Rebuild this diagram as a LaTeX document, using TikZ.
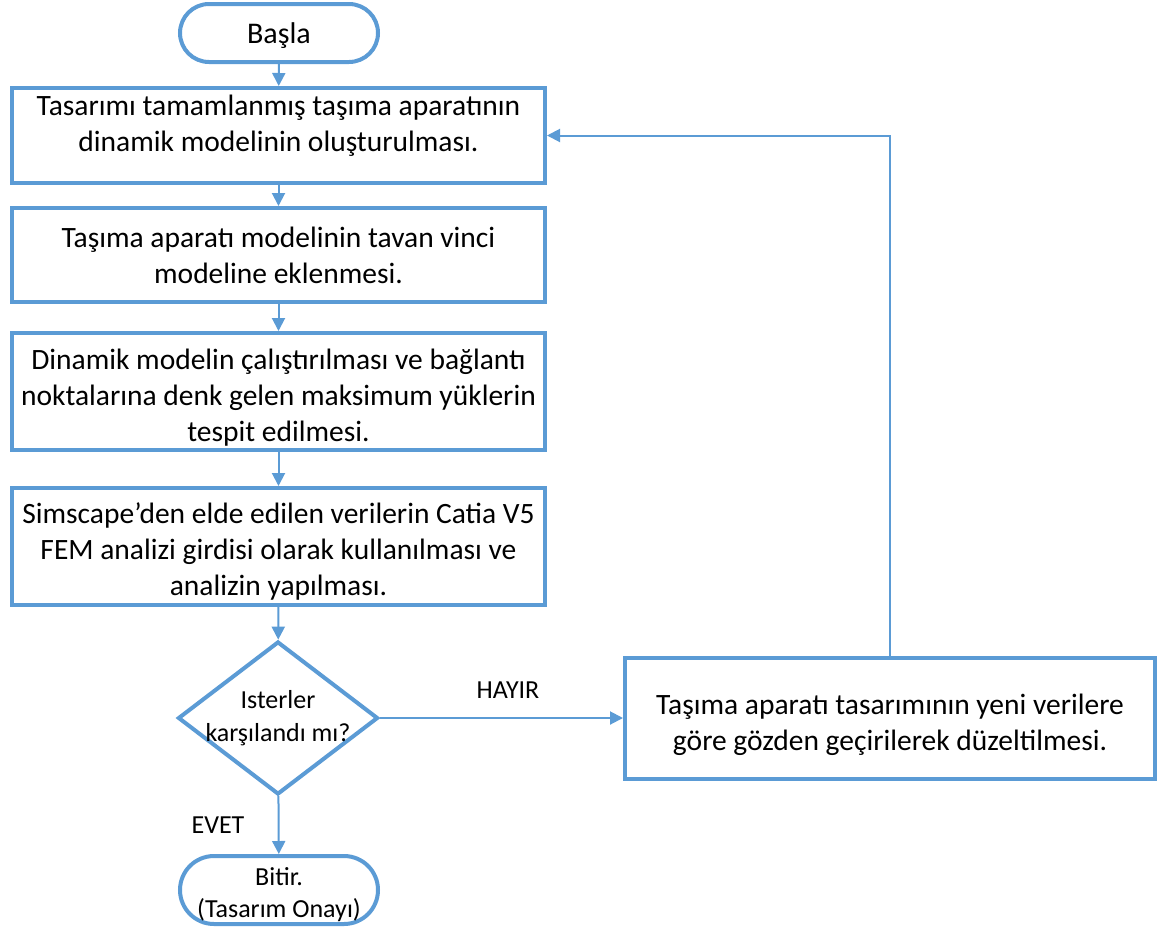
\documentclass[tikz,border=0pt]{standalone}
\usepackage{fontspec}
\setmainfont{Carlito}
\usepackage{xcolor}
\definecolor{fcblue}{RGB}{91,155,213}
\usepackage{tikz}
\usetikzlibrary{arrows.meta, positioning, shapes.geometric}

\begin{document}
\begin{tikzpicture}[x=1pt, y=-1pt,
  flowbox/.style={draw=fcblue, line width=4pt, fill=white, minimum width=533pt,
    align=center, inner sep=0pt, font=\fontsize{29.5}{36}\selectfont},
  termbox/.style={draw=fcblue, line width=4pt, fill=white, minimum width=198pt,
    align=center, inner sep=0pt, font=\fontsize{26}{32}\selectfont},
  decbox/.style={draw=fcblue, line width=4pt, fill=white, diamond,
    minimum width=200pt, minimum height=153pt, inner sep=0pt},
  lbl/.style={font=\fontsize{26}{30}\selectfont},
  link/.style={draw=fcblue, line width=2pt, -{Triangle[length=13pt, width=13pt]}}]

\useasboundingbox (0,0) rectangle (1157,932);

% === Start ===
\node[termbox, minimum height=58pt, rounded corners=29pt, text height=27pt,
      font=\fontsize{30}{36}\selectfont] (start) at (279,33) {Başla};

% === Steps ===
\node[flowbox, minimum height=95pt, text depth=25pt] (s1) at (278.5,135.5)
     {Tasarımı tamamlanmış taşıma aparatının\\dinamik modelinin oluşturulması.};
\node[flowbox, minimum height=94pt] (s2) at (278.5,255)
     {Taşıma aparatı modelinin tavan vinci\\modeline eklenmesi.};
\node[flowbox, minimum height=117pt, text height=104pt] (s3) at (278.5,391.5)
     {Dinamik modelin çalıştırılması ve bağlantı\\noktalarına denk gelen maksimum yüklerin\\tespit edilmesi.};
\node[flowbox, minimum height=117pt, text height=103pt] (s4) at (278.5,546.5)
     {Simscape’den elde edilen verilerin Catia V5\\FEM analizi girdisi olarak kullanılması ve\\analizin yapılması.};

% === Decision ===
\node[decbox] (dec) at (278,718) {};
\node[font=\fontsize{26}{33}\selectfont, align=center] (dectext) at (dec.center)
     {Isterler\\karşılandı mı?};

% === Revision ===
\node[flowbox, minimum width=530pt, minimum height=121pt, text height=70pt] (fix) at (890,718)
     {Taşıma aparatı tasarımının yeni verilere\\göre gözden geçirilerek düzeltilmesi.};

% === End ===
\node[termbox, minimum height=68pt, rounded corners=34pt, text height=60pt] (end) at (279,890)
     {Bitir.\\(Tasarım Onayı)};

% === Connectors ===
\draw[link] (start) -- (s1);
\draw[link] (s1) -- (s2);
\draw[link] (s2) -- (s3);
\draw[link] (s3) -- (s4);
\draw[link] (s4) -- (dec);
\draw[link] (dec.east) -- (dec.east -| fix.west);
\draw[link] (dec) -- (end);
\draw[link] (fix.north) |- (s1.east);

\node[lbl] (no) at (508,690) {HAYIR};
\node[lbl] (yes) at (218,825) {EVET};

\end{tikzpicture}
\end{document}
